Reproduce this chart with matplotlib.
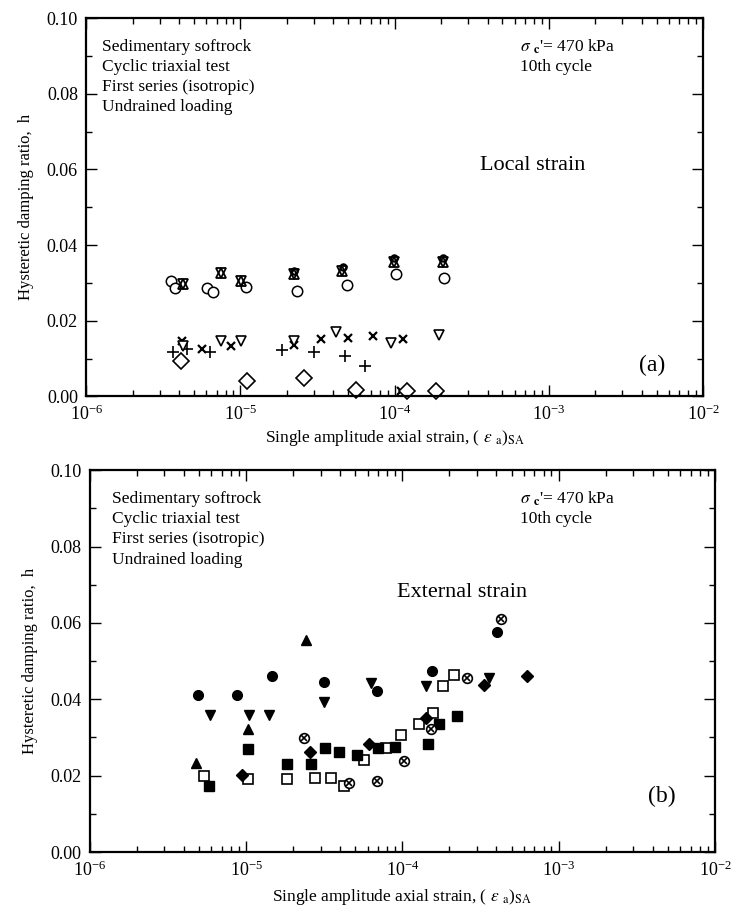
import matplotlib
matplotlib.use("Agg")
import matplotlib.pyplot as plt
from matplotlib.ticker import LogLocator, MultipleLocator, LogFormatterMathtext

plt.rcParams['font.family'] = ['Liberation Serif', 'DejaVu Serif']
plt.rcParams['mathtext.fontset'] = 'stix'

# ---- (a) local strain ----
a_circ_x = [3.55e-6, 3.77e-6, 6.1e-6, 6.6e-6, 1.08e-5, 2.33e-5, 4.93e-5, 1.02e-4, 2.1e-4]
a_circ_y = [0.0304, 0.0287, 0.0287, 0.0275, 0.0288, 0.0278, 0.0294, 0.0323, 0.0314]
a_star_x = [4.25e-6, 7.5e-6, 1.01e-5, 2.24e-5, 4.55e-5, 9.9e-5, 2.06e-4]
a_star_y = [0.0296, 0.0326, 0.0306, 0.0324, 0.0332, 0.0356, 0.0356]
a_dot_x = [2.24e-5, 4.6e-5, 9.9e-5, 2.06e-4]
a_dot_y = [0.0332, 0.0342, 0.0366, 0.0366]
a_plus_x = [3.67e-6, 4.48e-6, 6.35e-6, 1.87e-5, 2.98e-5, 4.74e-5, 6.38e-5, 1.84e-4]
a_plus_y = [0.0116, 0.0124, 0.0116, 0.0122, 0.0116, 0.0107, 0.0080, 0.0020]
a_x_x = [4.19e-6, 5.66e-6, 8.7e-6, 2.23e-5, 3.33e-5, 4.98e-5, 7.2e-5, 1.14e-4, 1.1e-4]
a_x_y = [0.0146, 0.0124, 0.0133, 0.0135, 0.0151, 0.0154, 0.0159, 0.0151, 0.0014]
a_tri_x = [4.26e-6, 7.45e-6, 1.01e-5, 2.23e-5, 4.16e-5, 9.4e-5, 1.93e-4]
a_tri_y = [0.0133, 0.0146, 0.0146, 0.0146, 0.0169, 0.0142, 0.0161]
a_dia_x = [4.12e-6, 1.11e-5, 2.6e-5, 5.6e-5, 1.21e-4, 1.84e-4]
a_dia_y = [0.0093, 0.0041, 0.0049, 0.0016, 0.0014, 0.0014]

# ---- (b) external strain ----
b_circ_x = [4.92e-6, 8.8e-6, 1.46e-5, 3.13e-5, 6.85e-5, 1.55e-4, 4.06e-4]
b_circ_y = [0.0410, 0.0410, 0.0460, 0.0445, 0.0421, 0.0473, 0.0576]
b_tdn_x = [5.9e-6, 1.04e-5, 1.41e-5, 3.13e-5, 6.3e-5, 1.42e-4, 3.56e-4]
b_tdn_y = [0.0360, 0.0360, 0.0360, 0.0392, 0.0443, 0.0434, 0.0456]
b_tup_x = [4.75e-6, 1.03e-5, 2.43e-5]
b_tup_y = [0.0233, 0.0323, 0.0554]
b_osq_x = [5.35e-6, 1.02e-5, 1.83e-5, 2.74e-5, 3.5e-5, 4.21e-5, 5.72e-5, 7.8e-5,
           9.8e-5, 1.27e-4, 1.58e-4, 1.83e-4, 2.15e-4]
b_osq_y = [0.0200, 0.0192, 0.0192, 0.0194, 0.0194, 0.0172, 0.0242, 0.0273,
           0.0306, 0.0334, 0.0364, 0.0434, 0.0463]
b_fsq_x = [5.75e-6, 1.03e-5, 1.83e-5, 2.61e-5, 3.18e-5, 3.92e-5, 5.15e-5, 6.95e-5,
           9.0e-5, 1.45e-4, 1.72e-4, 2.25e-4]
b_fsq_y = [0.0172, 0.0271, 0.0231, 0.0231, 0.0273, 0.0263, 0.0253, 0.0273,
           0.0274, 0.0284, 0.0335, 0.0355]
b_dia_x = [9.46e-6, 2.55e-5, 6.15e-5, 1.42e-4, 3.34e-4, 6.23e-4]
b_dia_y = [0.0203, 0.0263, 0.0284, 0.0351, 0.0437, 0.0460]
b_otimes_x = [2.33e-5, 4.58e-5, 6.85e-5, 1.03e-4, 1.52e-4, 2.61e-4, 4.27e-4]
b_otimes_y = [0.0298, 0.0181, 0.0187, 0.0238, 0.0321, 0.0456, 0.0609]

info_left = ["Sedimentary softrock", "Cyclic triaxial test",
             "First series (isotropic)", "Undrained loading"]
info_right = [r"$\sigma$ $_{\mathbf{c}}$'= 470 kPa", "10th cycle"]
xlab = r"Single amplitude axial strain, ( $\varepsilon$ $_{\rm a}$)$_{\rm SA}$"
ylab = "Hysteretic damping ratio,  h"

fig = plt.figure(figsize=(7.37, 9.07), dpi=100)
ax1 = fig.add_axes([0.117, 0.563, 0.837, 0.417])
ax2 = fig.add_axes([0.122, 0.0606, 0.848, 0.421])

def style(ax, lpad):
    ax.set_xscale('log')
    ax.set_xlim(1e-6, 1e-2)
    ax.set_ylim(0, 0.10)
    ax.yaxis.set_major_locator(MultipleLocator(0.02))
    ax.yaxis.set_minor_locator(MultipleLocator(0.01))
    ax.yaxis.set_major_formatter(plt.FormatStrFormatter('%.2f'))
    ax.xaxis.set_major_locator(LogLocator(base=10, numticks=10))
    ax.xaxis.set_minor_locator(LogLocator(base=10, subs=range(2, 10), numticks=20))
    ax.xaxis.set_major_formatter(LogFormatterMathtext())
    ax.tick_params(which='both', direction='in', top=True, right=True,
                   labelsize=13, width=1.0)
    ax.tick_params(which='major', length=8, pad=6)
    ax.tick_params(which='minor', length=4)
    for s in ax.spines.values():
        s.set_linewidth(1.6)
    ax.set_xlabel(xlab, fontsize=12.5, labelpad=lpad)
    ax.set_ylabel(ylab, fontsize=12, labelpad=9)

style(ax1, 3)
style(ax2, 5)

k = dict(color='black', linestyle='none', clip_on=False)

# (a)
ax1.plot(a_circ_x, a_circ_y, 'o', ms=7.5, mfc='white', mew=1.1, **k)
ax1.plot(a_star_x, a_star_y, '^', ms=6.5, mfc='none', mew=1.3, **k)
ax1.plot(a_star_x, a_star_y, 'v', ms=6.5, mfc='none', mew=1.3, **k)
ax1.plot(a_dot_x, a_dot_y, 'o', ms=4.5, mfc='none', mew=1.6, **k)
ax1.plot(a_plus_x, a_plus_y, '+', ms=8, mew=1.2, **k)
ax1.plot(a_x_x, a_x_y, 'x', ms=6, mew=1.6, **k)
ax1.plot(a_tri_x, a_tri_y, 'v', ms=7.5, mfc='white', mew=1.2, **k)
ax1.plot(a_dia_x, a_dia_y, 'D', ms=8, mfc='white', mew=1.2, **k)

# (b)
ax2.plot(b_circ_x, b_circ_y, 'o', ms=7, **k)
ax2.plot(b_tdn_x, b_tdn_y, 'v', ms=7, **k)
ax2.plot(b_tup_x, b_tup_y, '^', ms=7, **k)
ax2.plot(b_osq_x, b_osq_y, 's', ms=7, mfc='white', mew=1.2, **k)
ax2.plot(b_fsq_x, b_fsq_y, 's', ms=6.5, **k)
ax2.plot(b_dia_x, b_dia_y, 'D', ms=6.5, **k)
ax2.plot(b_otimes_x, b_otimes_y, 'o', ms=7, mfc='white', mew=1.2, **k)
ax2.plot(b_otimes_x, b_otimes_y, 'x', ms=4, mew=1.2, **k)

# annotations
for ax, lx in ((ax1, 0.026), (ax2, 0.035)):
    for i, t in enumerate(info_left):
        ax.text(lx, 0.925 - i * 0.053, t, transform=ax.transAxes,
                fontsize=12.5, va='center', ha='left')
for ax, rx in ((ax1, 0.703), (ax2, 0.688)):
    for i, t in enumerate(info_right):
        ax.text(rx, 0.925 - i * 0.053, t, transform=ax.transAxes,
                fontsize=12.5, va='center', ha='left')

ax1.text(7.8e-4, 0.061, "Local strain", fontsize=16, ha='center', va='center')
ax2.text(2.4e-4, 0.068, "External strain", fontsize=16, ha='center', va='center')
ax1.text(0.917, 0.082, "(a)", transform=ax1.transAxes, fontsize=17, ha='center', va='center')
ax2.text(0.915, 0.145, "(b)", transform=ax2.transAxes, fontsize=17, ha='center', va='center')

fig.savefig("out.png", dpi=100)
